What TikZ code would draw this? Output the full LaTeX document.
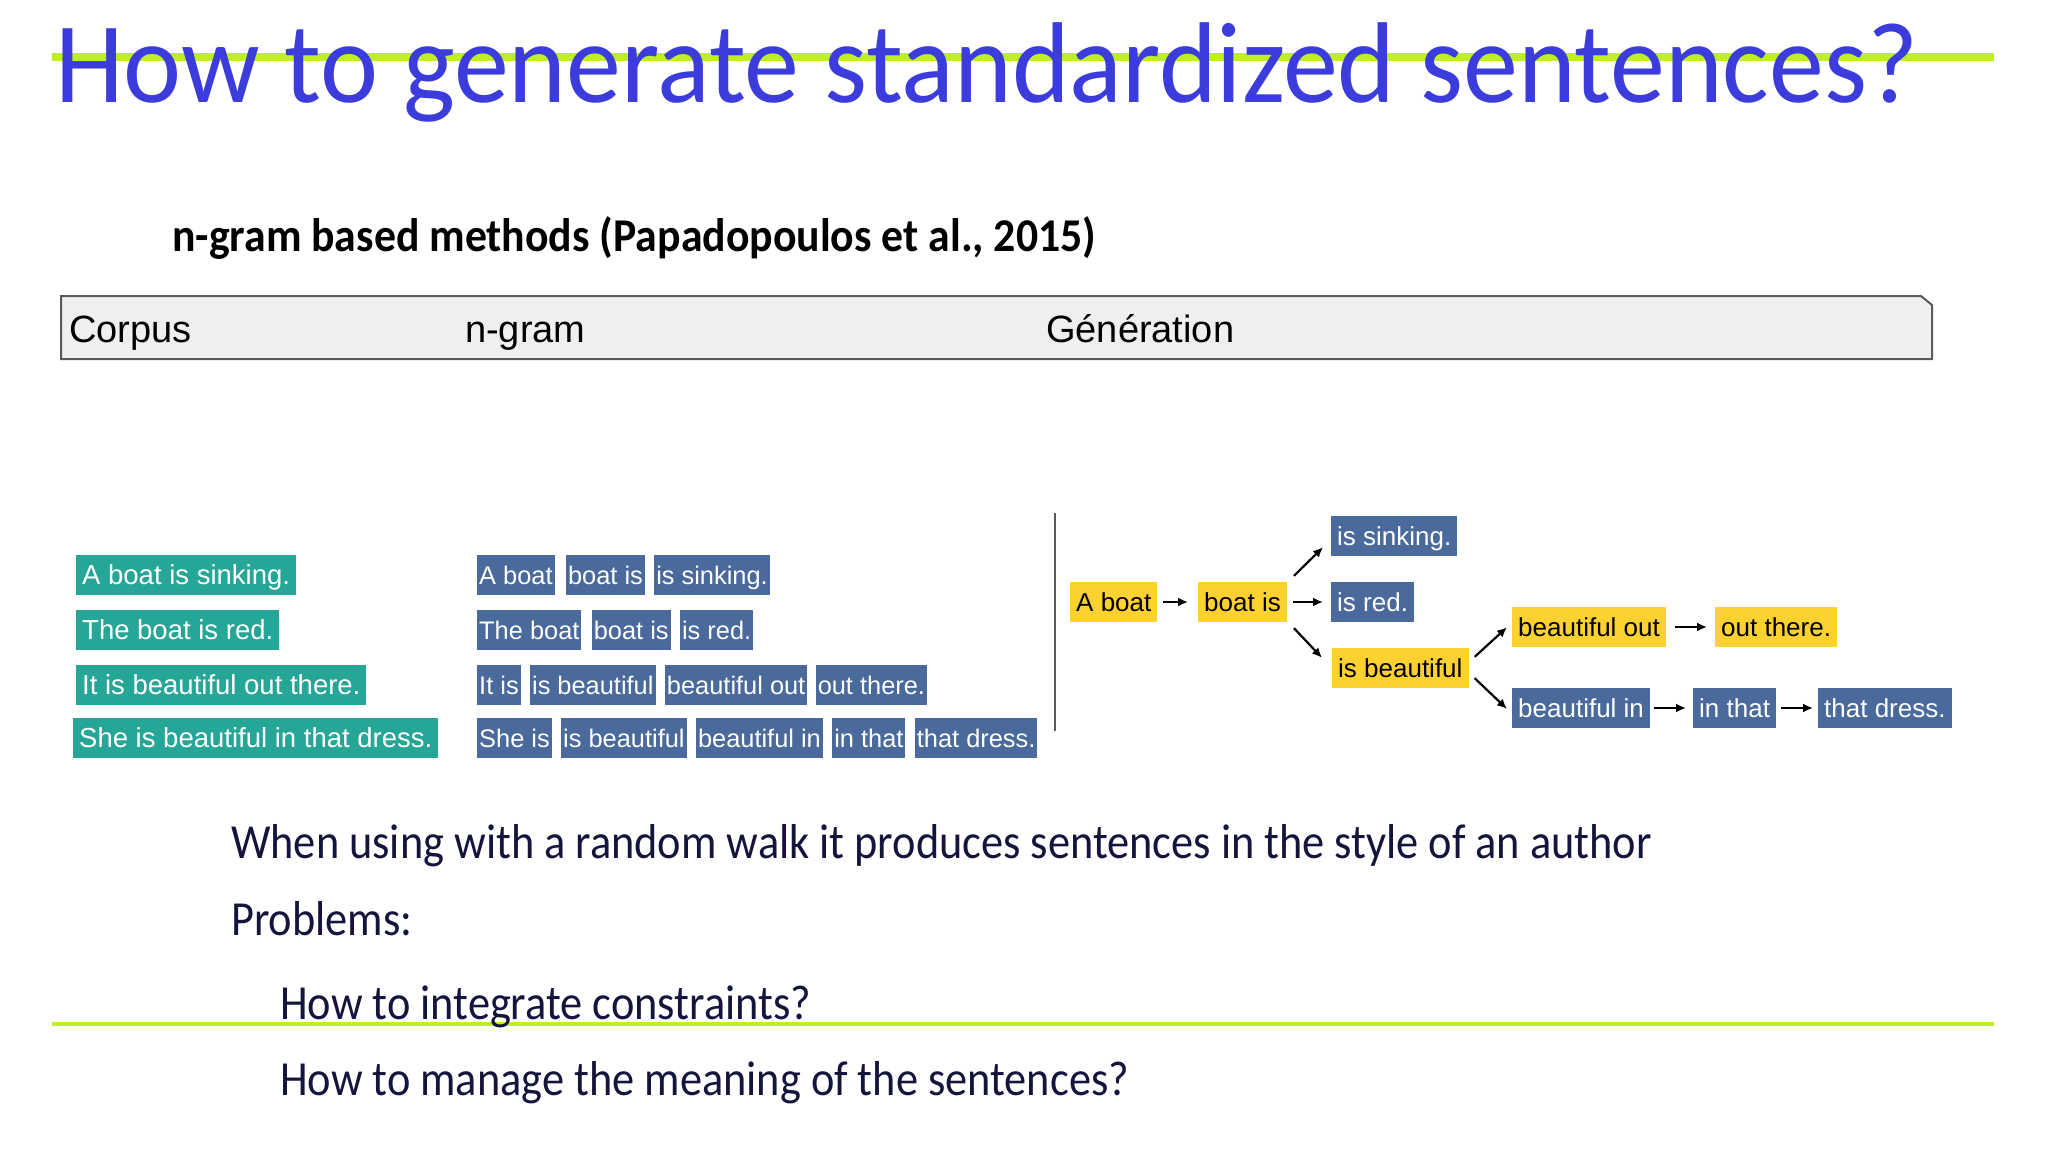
\documentclass[tikz,border=0pt]{standalone}
\usepackage{fontspec}
\setmainfont{Carlito}
\newfontfamily\arialfont{Liberation Sans}
\usetikzlibrary{positioning,arrows.meta}

\definecolor{titleblue}{RGB}{60,60,220}
\definecolor{limeline}{RGB}{190,238,40}
\definecolor{corpusgreen}{RGB}{38,166,150}
\definecolor{gramblue}{RGB}{74,106,156}
\definecolor{genyellow}{RGB}{253,210,48}
\definecolor{bodynavy}{RGB}{20,20,60}
\definecolor{barfill}{RGB}{239,239,239}
\definecolor{barline}{RGB}{90,90,90}

\tikzset{
	box/.style     = {font=\arialfont\fontsize{26}{26}\selectfont, inner ysep=4.5pt, text height=25pt, text depth=6pt, anchor=west},
	corpus/.style  = {box, font=\arialfont\fontsize{27.5}{27.5}\selectfont, fill=corpusgreen, text=white, inner xsep=6pt},
	gram/.style    = {box, font=\arialfont\fontsize{25.4}{25.4}\selectfont, fill=gramblue, text=white, inner xsep=2pt},
	genblue/.style = {box, fill=gramblue, text=white, inner xsep=6pt},
	genyel/.style  = {box, fill=genyellow, text=black, inner xsep=6pt},
	bartext/.style = {anchor=base west, inner sep=0pt, font=\arialfont\fontsize{38}{38}\selectfont},
	body/.style    = {anchor=base west, inner sep=0pt, text=bodynavy, font=\fontsize{49}{49}\selectfont},
	arr/.style     = {-{Latex[length=10pt,width=9pt]}, line width=2.2pt}
}

\begin{document}
\begin{tikzpicture}[x=1pt,y=-1pt]
	\useasboundingbox (0,0) rectangle (2048,1152);

	% title
	\draw[limeline, line width=8pt] (52,57) -- (1994,57);
	\node (title) at (55,102) [anchor=base west, inner sep=0pt, text=titleblue, font=\fontsize{115}{115}\selectfont] {\scalebox{0.956}[1]{How to generate standardized sentences?}};
	\node (sub) at (172,251) [anchor=base west, inner sep=0pt, font=\bfseries\fontsize{47}{47}\selectfont] {\scalebox{0.931}[1]{n-gram based methods (Papadopoulos et al., 2015)}};

	% header bar
	\draw[barline, fill=barfill, line width=2pt] (61,296) -- (1921,296) -- (1932,305) -- (1932,359) -- (61,359) -- cycle;
	\node (hcorpus) at (69,342)   [bartext] {Corpus};
	\node (hgram)   at (465,342)  [bartext] {n-gram};
	\node (hgen)    at (1046,342) [bartext] {Génération};

	% corpus
	\node (c1) at (76,575) [corpus] {A boat is sinking.};
	\node (c2) at (76,630) [corpus] {The boat is red.};
	\node (c3) at (76,685) [corpus] {It is beautiful out there.};
	\node (c4) at (73,738) [corpus] {She is beautiful in that dress.};

	% n-grams
	\node (n11) at (477,575) [gram] {A boat};
	\node (n12) [gram, right=11pt of n11] {boat is};
	\node (n13) [gram, right=9pt of n12] {is sinking.};
	\node (n21) at (477,630) [gram] {The boat};
	\node (n22) [gram, right=10pt of n21] {boat is};
	\node (n23) [gram, right=9pt of n22] {is red.};
	\node (n31) at (477,685) [gram] {It is};
	\node (n32) [gram, right=9pt of n31] {is beautiful};
	\node (n33) [gram, right=9pt of n32] {beautiful out};
	\node (n34) [gram, right=8pt of n33] {out there.};
	\node (n41) at (477,738) [gram] {She is};
	\node (n42) [gram, right=9pt of n41] {is beautiful};
	\node (n43) [gram, right=9pt of n42] {beautiful in};
	\node (n44) [gram, right=9pt of n43] {in that};
	\node (n45) [gram, right=9pt of n44] {that dress.};

	\draw[barline, line width=2pt] (1055,513) -- (1055,731);

	% generation
	\node (gA)  at (1070,602) [genyel]  {A boat};
	\node (gB)  at (1198,602) [genyel]  {boat is};
	\node (gS)  at (1331,536) [genblue] {is sinking.};
	\node (gR)  at (1331,602) [genblue] {is red.};
	\node (gBe) at (1332,668) [genyel]  {is beautiful};
	\node (gBo) at (1512,627) [genyel]  {beautiful out};
	\node (gOt) at (1715,627) [genyel]  {out there.};
	\node (gBi) at (1512,708) [genblue] {beautiful in};
	\node (gIt) at (1693,708) [genblue] {in that};
	\node (gTd) at (1818,708) [genblue] {that dress.};

	\draw[arr, shorten <=5pt, shorten >=10pt] (gA) -- (gB);
	\draw[arr] ([shift={(7,-6)}]gB.north east) -- ([shift={(-8,-9)}]gS.south west);
	\draw[arr, shorten <=6pt, shorten >=8pt] (gB) -- (gR);
	\draw[arr] ([shift={(7,6)}]gB.south east) -- ([shift={(-10,10)}]gBe.north west);
	\draw[arr] ([shift={(6,9)}]gBe.north east) -- ([shift={(-5,-20)}]gBo.south west);
	\draw[arr] ([shift={(6,-10)}]gBe.south east) -- ([shift={(-5,1)}]gBi.west);
	\draw[arr, shorten <=9pt, shorten >=8pt] (gBo) -- (gOt);
	\draw[arr, shorten <=4pt, shorten >=7pt] (gBi) -- (gIt);
	\draw[arr, shorten <=5pt, shorten >=5pt] (gIt) -- (gTd);

	% text below
	\draw[limeline, line width=3.5pt] (52,1024) -- (1994,1024);
	\node (walk)  at (231,858)  [body] {\scalebox{0.905}[1]{When using with a random walk it produces sentences in the style of an author}};
	\node (probs) at (231,935)  [body] {\scalebox{0.905}[1]{Problems:}};
	\node (q1)    at (280,1019) [body] {\scalebox{0.905}[1]{How to integrate constraints?}};
	\node (q2)    at (280,1095) [body] {\scalebox{0.905}[1]{How to manage the meaning of the sentences?}};
\end{tikzpicture}
\end{document}
